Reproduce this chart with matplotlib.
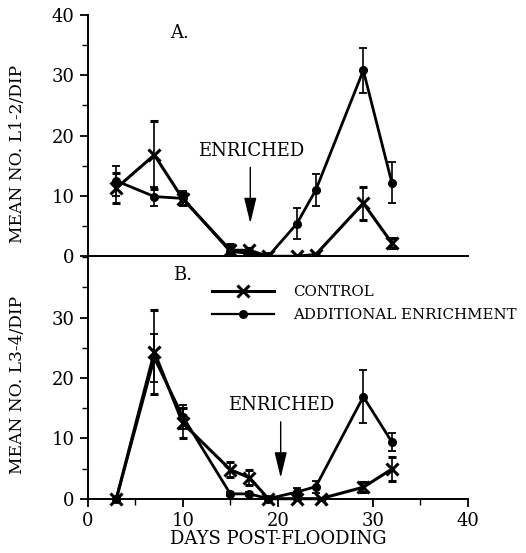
import numpy as np
import matplotlib
matplotlib.use("Agg")
import matplotlib.pyplot as plt
from matplotlib.ticker import MultipleLocator
from matplotlib.lines import Line2D

plt.rcParams['font.family'] = ['DejaVu Serif']
plt.rcParams['font.size'] = 13

# Panel A: L1-2 larvae
days_a = [3, 7, 10, 15, 17, 19, 22, 24, 29, 32]
ctrl_a = [11.3, 16.8, 9.5, 1.0, 1.0, 0, 0, 0.3, 8.8, 2.2]
ctrl_a_err = [2.5, 5.6, 1.0, 1.0, 0.3, 0, 0, 0.3, 2.7, 0.8]
add_a = [12.5, 9.9, 9.6, 0.8, 0.5, 0, 5.4, 11.0, 30.8, 12.2]
add_a_err = [2.5, 1.6, 1.2, 0.8, 0.3, 0, 2.6, 2.7, 3.7, 3.4]

# Panel B: L3-4 larvae
days_b_ctrl = [3, 7, 10, 15, 17, 19, 22, 24.5, 29, 32]
ctrl_b = [0, 24.3, 12.5, 4.8, 3.5, 0, 0, 0, 1.9, 4.9]
ctrl_b_err = [0, 7.0, 2.5, 1.2, 1.2, 0, 0, 0, 0.8, 2.0]
days_b_add = [3, 7, 10, 15, 17, 19, 22, 24, 29, 32]
add_b = [0, 23.3, 13.6, 0.8, 0.8, 0, 1.1, 2.0, 16.9, 9.4]
add_b_err = [0, 4.0, 2.0, 0.3, 0.3, 0, 0.6, 1.0, 4.4, 1.5]

fig = plt.figure(figsize=(5.26, 5.53), dpi=100)
ax_a = fig.add_axes([0.167, 0.5365, 0.7224, 0.4365])
ax_b = fig.add_axes([0.167, 0.0982, 0.7224, 0.4365])


def draw(ax, dc, c, ce, da, a, ae):
    ax.errorbar(dc, c, yerr=ce, color='black', lw=2.2, marker='x', ms=8, mew=2.2,
                capsize=3, elinewidth=1.2, capthick=1.3, clip_on=False, zorder=3)
    ax.errorbar(da, a, yerr=ae, color='black', lw=2.0, marker='o', ms=5.5,
                capsize=3, elinewidth=1.2, capthick=1.3, clip_on=False, zorder=3)
    ax.set_xlim(0, 40)
    ax.set_ylim(0, 40)
    for s in ['top', 'right']:
        ax.spines[s].set_visible(False)
    for s in ['left', 'bottom']:
        ax.spines[s].set_linewidth(1.4)
    ax.yaxis.set_minor_locator(MultipleLocator(5))
    ax.tick_params(axis='y', which='major', length=6, width=1.3, direction='out')
    ax.tick_params(axis='y', which='minor', length=4, width=1.0, direction='out')


def arrow(ax, x, y0, y1):
    ax.annotate('', xy=(x, y1), xytext=(x, y0),
                arrowprops=dict(arrowstyle='-|>,head_length=0.79,head_width=0.19',
                                color='black', lw=1.0, mutation_scale=20))


draw(ax_a, days_a, ctrl_a, ctrl_a_err, days_a, add_a, add_a_err)
ax_a.set_yticks([0, 10, 20, 30, 40])
ax_a.set_xticks([])
ax_a.set_ylabel('MEAN NO. L1-2/DIP', fontsize=12.3)
ax_a.yaxis.set_label_coords(-0.163, 0.423)
ax_a.text(9.7, 37, 'A.', ha='center', va='center')
ax_a.text(17.2, 17.4, 'ENRICHED', ha='center', va='center')
arrow(ax_a, 17.1, 15.2, 5.0)

draw(ax_b, days_b_ctrl, ctrl_b, ctrl_b_err, days_b_add, add_b, add_b_err)
ax_b.set_yticks([0, 10, 20, 30])
ax_b.set_xticks([0, 10, 20, 30, 40])
ax_b.xaxis.set_minor_locator(MultipleLocator(5))
ax_b.tick_params(axis='x', which='major', length=6, width=1.3, direction='out')
ax_b.tick_params(axis='x', which='minor', length=4, width=1.0, direction='out')
ax_b.set_ylabel('MEAN NO. L3-4/DIP', fontsize=12.3)
ax_b.yaxis.set_label_coords(-0.163, 0.47)
ax_b.set_xlabel('DAYS POST-FLOODING', labelpad=0)
ax_b.text(10, 37, 'B.', ha='center', va='center')
ax_b.text(20.3, 15.5, 'ENRICHED', ha='center', va='center')
arrow(ax_b, 20.3, 13.2, 3.0)

handles = [Line2D([], [], color='black', lw=2.2, marker='x', ms=8, mew=2.2),
           Line2D([], [], color='black', lw=1.6, marker='o', ms=5.5)]
ax_b.legend(handles, ['CONTROL', 'ADDITIONAL ENRICHMENT'], loc='upper left',
            bbox_to_anchor=(0.327, 0.884), frameon=False,
            handlelength=4.1, handletextpad=1.3, labelspacing=0.6,
            borderpad=0, borderaxespad=0, fontsize=10.8, numpoints=1)

fig.savefig('out.png', dpi=100)
